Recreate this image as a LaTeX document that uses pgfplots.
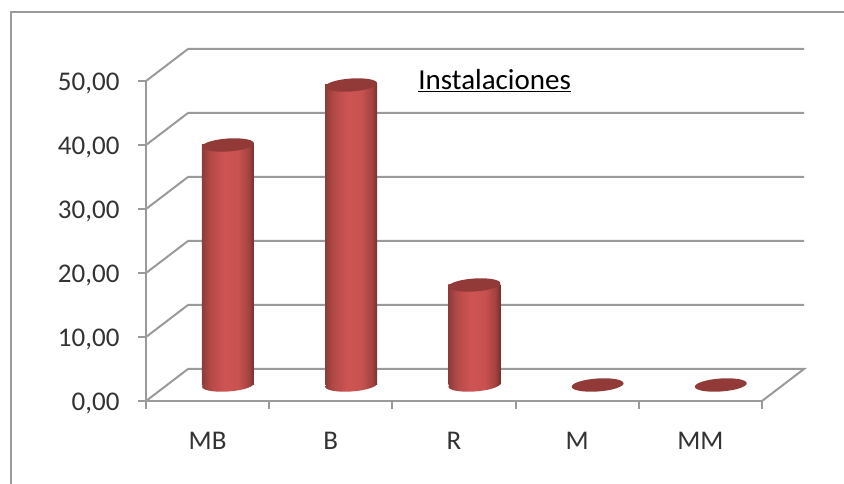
\documentclass[border=0pt]{standalone}
\usepackage{fontspec}
\setmainfont{Carlito}
\usepackage{pgfplots}
\pgfplotsset{compat=1.18}

\definecolor{linegray}{HTML}{9A9A9A}
\definecolor{labelgray}{HTML}{333333}
\definecolor{captop}{HTML}{913A38}

% cylinder body, dark at the edges
\pgfdeclarehorizontalshading{cyl}{100bp}{
  rgb(0bp)=(0.56,0.23,0.22);
  rgb(25bp)=(0.56,0.23,0.22);
  rgb(33bp)=(0.70,0.29,0.28);
  rgb(47bp)=(0.81,0.33,0.33);
  rgb(60bp)=(0.78,0.32,0.31);
  rgb(70bp)=(0.64,0.26,0.25);
  rgb(75bp)=(0.47,0.19,0.18);
  rgb(100bp)=(0.47,0.19,0.18)}

% caps sit halfway back on the floor, same offset as the bars, tilted 4 degrees
\newcommand{\cappath}{\pgfpathellipse{\pgfqpoint{20.4pt}{16pt}}{\pgfqpoint{25.94pt}{1.81pt}}{\pgfqpoint{-0.45pt}{6.48pt}}}
\pgfdeclareplotmark{captop}{\cappath\pgfsetfillcolor{captop}\pgfusepath{fill}}
\pgfdeclareplotmark{capbot}{\cappath\pgfshadepath{cyl}{0}\pgfusepath{discard}}

\pgfplotsset{cylbody/.style={ybar,bar width=52pt,bar shift=0pt,draw=none,shading=cyl,xshift=20.4pt,yshift=16pt}}

\begin{document}
\begin{tikzpicture}
\path[use as bounding box] (-146pt,-83pt) rectangle (698pt,401pt);
% outer chart frame, only top and left are visible
\draw[linegray,line width=2pt] (-135pt,-83pt) -- (-135pt,389pt) -- (698pt,389pt);
\begin{axis}[
  at={(0pt,0pt)},anchor=south west,
  scale only axis,width=616pt,height=320pt,
  xmin=-0.5,xmax=4.5,ymin=0,ymax=50,
  clip=false,
  axis lines=left,
  axis line style={-,linegray,line width=2pt},
  xtick={0,1,2,3,4},
  xticklabels={MB,B,R,M,MM},
  minor xtick={-0.5,0.5,1.5,2.5,3.5,4.5},
  ytick={0,10,20,30,40,50},
  major x tick style={draw=none},
  major tick length=8pt,
  minor tick length=8pt,
  tick align=outside,
  tick style={linegray,line width=2pt},
  ticklabel style={font=\fontsize{27}{32}\selectfont,text=labelgray},
  x tick label style={yshift=-20pt},
  y tick label style={xshift=-15pt,yshift=-2pt},
  /pgf/number format/.cd,fixed,fixed zerofill,precision=2,use comma,assume math mode=true,
  /pgfplots/.cd,
]
% walls: floor and gridlines run back by 0.341 categories and 5 units
\addplot[linegray,line width=2pt] coordinates {(-0.5,0) (-0.159,5) (4.841,5) (4.5,0)};
\addplot[linegray,line width=2pt] coordinates {(-0.5,10) (-0.159,15) (4.841,15)};
\addplot[linegray,line width=2pt] coordinates {(-0.5,20) (-0.159,25) (4.841,25)};
\addplot[linegray,line width=2pt] coordinates {(-0.5,30) (-0.159,35) (4.841,35)};
\addplot[linegray,line width=2pt] coordinates {(-0.5,40) (-0.159,45) (4.841,45)};
\addplot[linegray,line width=2pt] coordinates {(-0.5,50) (-0.159,55) (4.841,55)};
% cylinders: bottom cap, body, top cap
\addplot[only marks,mark=capbot] coordinates {(0,0) (1,0) (2,0)};
\addplot[cylbody] coordinates {(0,37.5)};
\addplot[cylbody] coordinates {(1,46.875)};
\addplot[cylbody] coordinates {(2,15.625)};
\addplot[only marks,mark=captop]
  coordinates {(0,37.5) (1,46.875) (2,15.625) (3,0) (4,0)};
\node[font=\fontsize{29}{34}\selectfont,text=black] at (axis cs:2.33,50) {\underline{Instalaciones}};
\end{axis}
\end{tikzpicture}
\end{document}
